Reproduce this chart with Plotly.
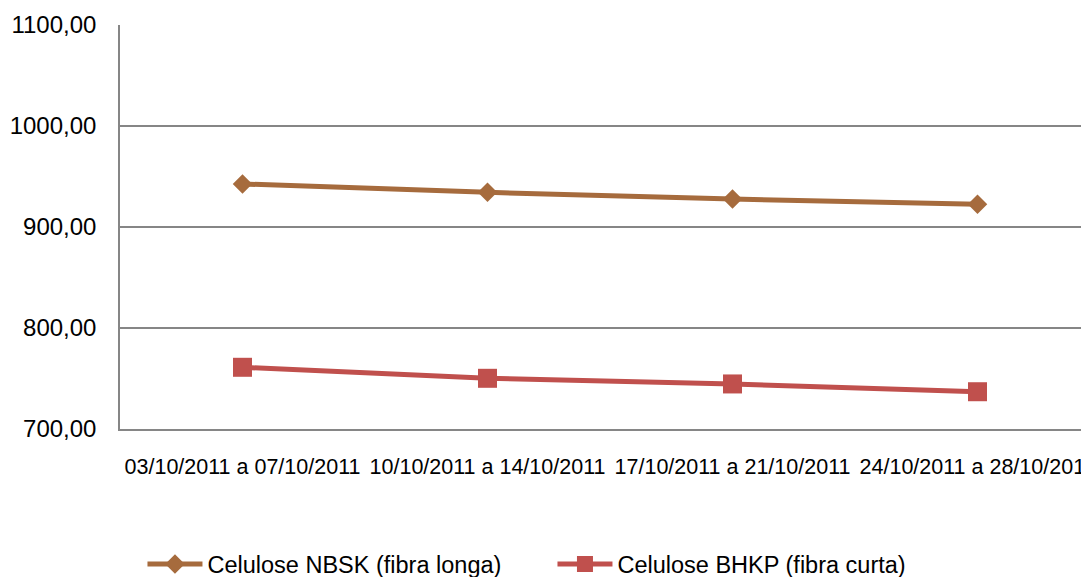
import plotly.graph_objects as go

categories = ["03/10/2011 a 07/10/2011", "10/10/2011 a 14/10/2011",
              "17/10/2011 a 21/10/2011", "24/10/2011 a 28/10/2011"]
nbsk = [942.6, 934.3, 927.7, 922.5]
bhkp = [761.1, 750.2, 744.6, 736.9]
y_ticks = [700, 800, 900, 1000, 1100]

FONT = "Arial, 'Liberation Sans', sans-serif"

fig = go.Figure()
fig.add_trace(go.Scatter(
    x=list(range(len(categories))), y=nbsk, mode="lines+markers",
    name="Celulose NBSK (fibra longa)",
    line=dict(color="#A66B3D", width=5),
    marker=dict(symbol="diamond", size=15, color="#A66B3D")))
fig.add_trace(go.Scatter(
    x=list(range(len(categories))), y=bhkp, mode="lines+markers",
    name="Celulose BHKP (fibra curta)",
    line=dict(color="#C0504D", width=5),
    marker=dict(symbol="square", size=19, color="#C0504D")))

fig.update_layout(
    width=1089, height=577,
    margin=dict(l=112, r=0, t=17, b=156),
    paper_bgcolor="white", plot_bgcolor="white",
    font=dict(family=FONT, size=21, color="black"),
    separators=",.",
    showlegend=True,
    legend=dict(orientation="h", x=0.023, xanchor="left",
                y=0.036, yref="container", yanchor="middle",
                font=dict(size=23.5), entrywidth=340, entrywidthmode="pixels",
                itemwidth=55),
)

fig.update_xaxes(
    tickmode="array", tickvals=list(range(len(categories))), ticktext=categories,
    range=[-0.5, -0.5 + 977 / 245], showgrid=False, zeroline=False,
    showline=True, linecolor="#868686", linewidth=1.5, ticks="",
    tickfont=dict(size=21.5), ticklabelstandoff=17)
fig.update_yaxes(
    range=[700, 1100], tickmode="array", tickvals=y_ticks, tickformat=".2f",
    showgrid=True, gridcolor="#868686", gridwidth=1.5, zeroline=False,
    showline=True, linecolor="#868686", linewidth=1.5, ticks="",
    tickfont=dict(size=24), ticklabelstandoff=17)

fig.write_html("out.html")
